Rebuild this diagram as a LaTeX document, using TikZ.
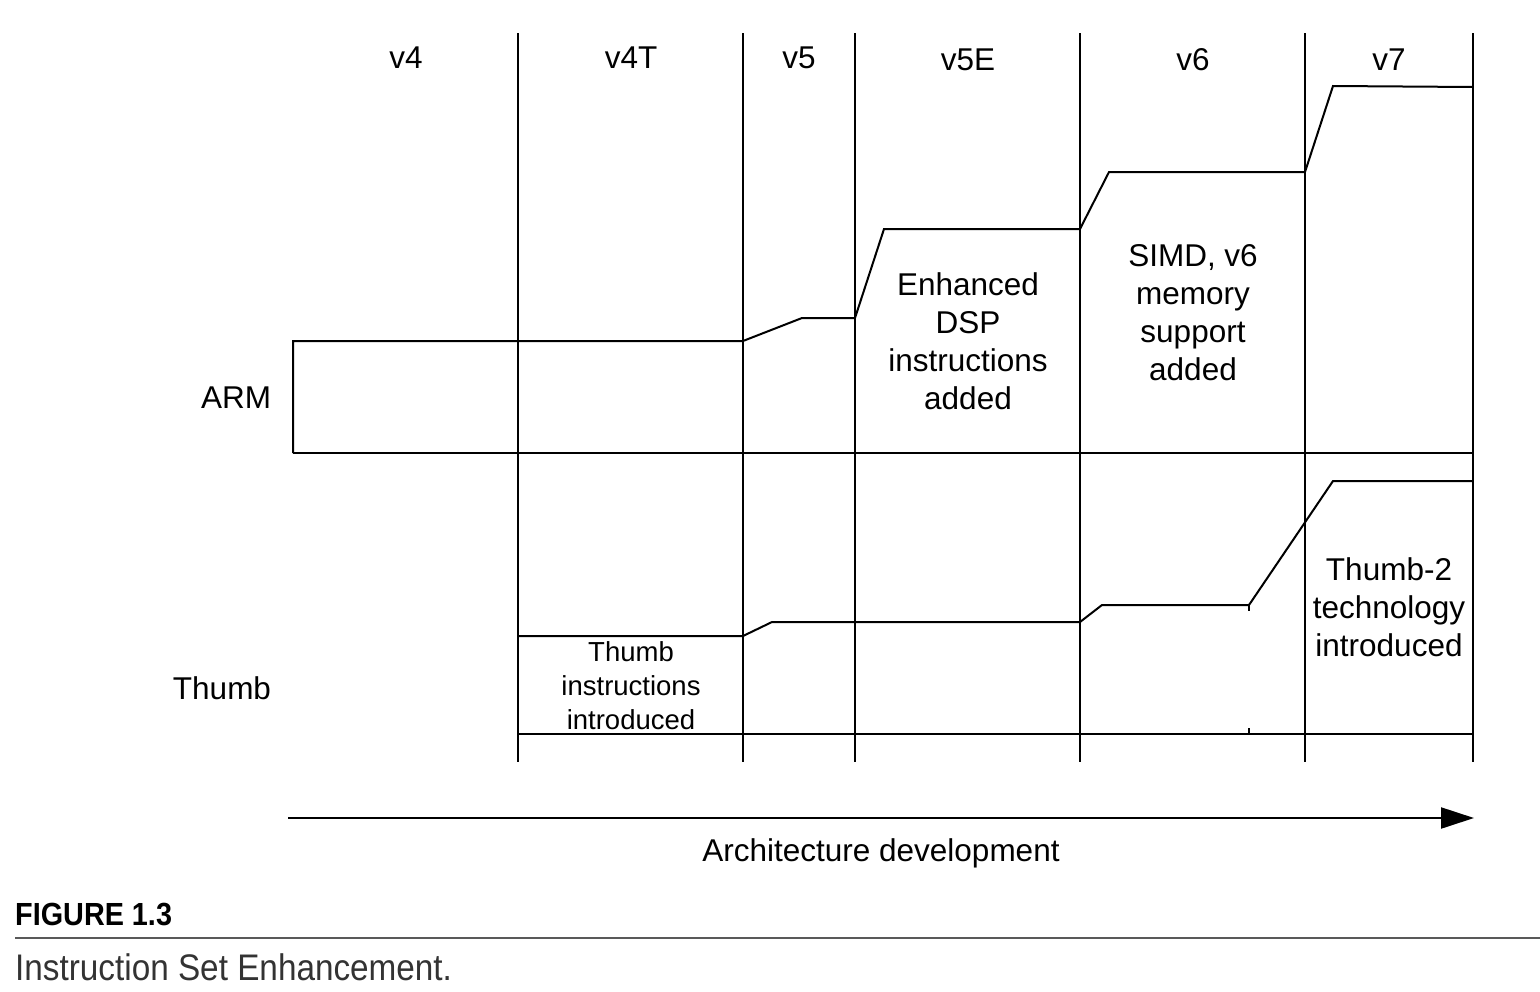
\documentclass[tikz,border=0pt]{standalone}
\usepackage{fontspec}
\usepackage{graphicx}
\setmainfont{Liberation Sans}
\usetikzlibrary{arrows.meta}
\begin{document}
\begin{tikzpicture}[x=1pt,y=-1pt,
  ln/.style={line width=2pt,line join=miter},
  lbl/.style={inner sep=0pt,font=\fontsize{31.5}{38}\selectfont,align=center},
  hdr/.style={inner sep=0pt,font=\fontsize{31.5}{38}\selectfont,anchor=base},
  small/.style={inner sep=0pt,font=\fontsize{27.5}{34}\selectfont,align=center}]
\useasboundingbox (0,0) rectangle (1540,991);
% column dividers
\foreach \x in {518,743,855,1080,1305,1473}
  \draw[ln] (\x,33) -- (\x,762);
% ARM profile
\draw[ln] (293,453) -- (293,341) -- (743,341) -- (802,318) -- (855,318) -- (884,229) -- (1080,229) -- (1109,172) -- (1305,172) -- (1333,86) -- (1473,87);
\draw[ln] (293,453) -- (1473,453);
% Thumb profile
\draw[ln] (518,636) -- (743,636) -- (772,622) -- (1080,622) -- (1102,605) -- (1249,605) -- (1333,481) -- (1473,481);
\draw[ln] (518,734) -- (1473,734);
\draw[ln] (1249,605) -- (1249,611);
\draw[ln] (1249,728) -- (1249,734);
% headers
\node[hdr] (v4)  at (406,68.5) {v4};
\node[hdr] (v4T) at (631,68.5) {v4T};
\node[hdr] (v5)  at (799,68.5) {v5};
\node[hdr] (v5E) at (968,70.5) {v5E};
\node[hdr] (v6)  at (1193,70.5) {v6};
\node[hdr] (v7)  at (1389,70.5) {v7};
% row labels
\node[hdr] (arm) at (236,408) {ARM};
\node[hdr] (thumb) at (222,699) {Thumb};
% annotations
\node[lbl] (dsp) at (968,341) {Enhanced\\DSP\\instructions\\added};
\node[lbl] (simd) at (1193,313) {SIMD, v6\\memory\\support\\added};
\node[lbl] (t2) at (1389,607) {Thumb-2\\technology\\introduced};
\node[small] (ti) at (631,686) {Thumb\\instructions\\introduced};
% arrow
\coordinate (as) at (288,818);
\coordinate (ae) at (1474,818);
\draw[line width=2.2pt,-{Triangle[length=33pt,width=21pt]}] (as) -- (ae);
\node[lbl] (ad) at (881,853) {Architecture development};
% caption
\node[anchor=base west,inner sep=0pt] (fig) at (15,925.5) {\scalebox{0.9}[1]{\fontsize{32}{36}\selectfont\bfseries FIGURE 1.3}};
\draw[line width=2pt,color=black!65] (15,938) -- (1540,938);
\node[anchor=base west,inner sep=0pt,text=black!80] (cap) at (15,980) {\scalebox{0.9}[1]{\fontsize{37}{40}\selectfont Instruction Set Enhancement.}};
\end{tikzpicture}
\end{document}
